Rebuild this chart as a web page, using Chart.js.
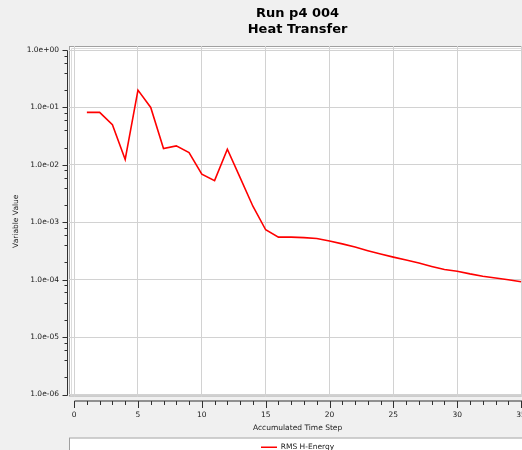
<!DOCTYPE html>
<html>
<head>
<meta charset="utf-8">
<script src="https://cdn.jsdelivr.net/npm/chart.js@4"></script>
<style>
  html, body { margin: 0; padding: 0; background: #f0f0f0; overflow: hidden; }
  #wrap { width: 522px; height: 450px; overflow: hidden; position: relative; }
  #c { position: absolute; left: 0; top: 0; }
</style>
</head>
<body>
<div id="wrap"><canvas id="c" width="540" height="461"></canvas></div>
<script>
// ---- data ----
const titleLines = ['Run p4 004', 'Heat Transfer'];
const seriesName = 'RMS H-Energy';
const steps = [1,2,3,4,5,6,7,8,9,10,11,12,13,14,15,16,17,18,19,20,21,22,23,24,25,26,27,28,29,30,31,32,33,34,35];
const rmsHEnergy = [0.082, 0.082, 0.050, 0.0124, 0.20, 0.10, 0.0192, 0.0214, 0.0164, 0.0069,
                    0.0053, 0.0187, 0.0060, 0.0019, 0.00074, 0.00055, 0.00055, 0.00054, 0.00052, 0.00047,
                    0.00042, 0.00037, 0.00032, 0.00028, 0.000247, 0.00022, 0.000195, 0.00017, 0.00015, 0.00014,
                    0.000126, 0.000115, 0.000107, 0.0001, 0.000092];
const yMajorTicks = [1, 1e-1, 1e-2, 1e-3, 1e-4, 1e-5, 1e-6];
const yTickLabels = ['1.0e+00', '1.0e-01', '1.0e-02', '1.0e-03', '1.0e-04', '1.0e-05', '1.0e-06'];
const xMajorTicks = [0, 5, 10, 15, 20, 25, 30, 35];
const xTickLabels = ['0', '5', '10', '15', '20', '25', '30', '35'];
const xAxisTitle = 'Accumulated Time Step';
const yAxisTitle = 'Variable Value';

// ---- derived tick sets ----
const yMinorTicks = [];
yMajorTicks.slice(1).forEach(d => [2, 4, 6, 8].forEach(m => yMinorTicks.push(d * m)));
const xMinorTicks = [];
for (let i = 0; i < xMajorTicks.length - 1; i++) {
  for (let k = 1; k < 5; k++) xMinorTicks.push(xMajorTicks[i] + k);
}
function isMajorY(v) { return yMajorTicks.some(m => Math.abs(Math.log10(v) - Math.log10(m)) < 1e-6); }
function isMajorX(v) { return xMajorTicks.includes(v); }

const FONT = "'DejaVu Sans', sans-serif";
const TEXT = '#1a1a1a';

const framePlugin = {
  id: 'frame',
  beforeDraw(chart) {
    const ctx = chart.ctx, a = chart.chartArea;
    ctx.save();
    ctx.fillStyle = '#f0f0f0';
    ctx.fillRect(0, 0, chart.width, chart.height);
    // plot area
    ctx.fillStyle = '#ffffff';
    ctx.fillRect(a.left, a.top, a.right - a.left, a.bottom - a.top);
    ctx.strokeStyle = '#a0a0a0';
    ctx.lineWidth = 1;
    ctx.strokeRect(a.left + 0.5, a.top + 0.5, a.right - a.left - 1, a.bottom - a.top - 1);
    ctx.strokeStyle = '#dcdcdc';
    ctx.beginPath();
    ctx.moveTo(a.left + 2.5, a.bottom - 1);
    ctx.lineTo(a.left + 2.5, a.top + 2.5);
    ctx.lineTo(a.right, a.top + 2.5);
    ctx.stroke();
    // legend box
    const lg = chart.legend;
    if (lg) {
      ctx.fillStyle = '#ffffff';
      ctx.fillRect(lg.left, lg.top, lg.right - lg.left, 60);
      ctx.strokeStyle = '#a0a0a0';
      ctx.strokeRect(lg.left + 0.5, lg.top + 0.5, lg.right - lg.left, 60);
    }
    ctx.restore();
  },
  afterDraw(chart) {
    const ctx = chart.ctx, a = chart.chartArea;
    const xs = chart.scales.x, ys = chart.scales.y;
    ctx.save();
    ctx.strokeStyle = '#303030';
    ctx.lineWidth = 1;
    // y axis
    const yAx = a.left - 1.5;
    const yTop = ys.getPixelForValue(yMajorTicks[0]);
    const yBot = ys.getPixelForValue(yMajorTicks[yMajorTicks.length - 1]);
    ctx.beginPath();
    ctx.moveTo(yAx, Math.round(yTop) + 0.5);
    ctx.lineTo(yAx, Math.round(yBot) + 0.5);
    yMajorTicks.forEach(v => {
      const p = Math.round(ys.getPixelForValue(v)) + 0.5;
      ctx.moveTo(yAx, p); ctx.lineTo(yAx - 5, p);
    });
    yMinorTicks.forEach(v => {
      const p = Math.round(ys.getPixelForValue(v)) + 0.5;
      ctx.moveTo(yAx, p); ctx.lineTo(yAx - 3, p);
    });
    ctx.stroke();
    // x axis
    const xAy = a.bottom + 4.5;
    const xL = xs.getPixelForValue(xMajorTicks[0]);
    ctx.beginPath();
    ctx.moveTo(Math.round(xL) + 0.5, xAy);
    ctx.lineTo(chart.width, xAy);
    xMajorTicks.forEach(v => {
      const p = Math.round(xs.getPixelForValue(v)) + 0.5;
      ctx.moveTo(p, xAy); ctx.lineTo(p, xAy + 7);
    });
    xMinorTicks.forEach(v => {
      const p = Math.round(xs.getPixelForValue(v)) + 0.5;
      ctx.moveTo(p, xAy); ctx.lineTo(p, xAy + 4);
    });
    ctx.stroke();
    ctx.restore();
  }
};

new Chart(document.getElementById('c'), {
  type: 'line',
  data: {
    datasets: [{
      label: seriesName,
      data: steps.map((s, i) => ({ x: s, y: rmsHEnergy[i] })),
      borderColor: '#ff0000',
      backgroundColor: '#ff0000',
      borderWidth: 1.6,
      pointRadius: 0,
      tension: 0,
      fill: false
    }]
  },
  options: {
    responsive: false,
    animation: false,
    devicePixelRatio: 1,
    layout: { padding: { left: 0, right: 9, top: 0, bottom: 0 } },
    plugins: {
      title: {
        display: true,
        text: titleLines,
        fullSize: false,
        color: '#000000',
        font: { family: FONT, size: 13, weight: 'bold', lineHeight: '16px' },
        padding: { top: 6, bottom: 8 }
      },
      legend: {
        display: true,
        position: 'bottom',
        fullSize: false,
        labels: {
          usePointStyle: true,
          pointStyle: 'line',
          pointStyleWidth: 16,
          color: TEXT,
          padding: 6,
          font: { family: FONT, size: 7.5 }
        }
      },
      tooltip: { enabled: false }
    },
    scales: {
      x: {
        type: 'linear',
        min: -0.4,
        max: 35.4,
        afterBuildTicks(scale) {
          scale.ticks = xMajorTicks.concat(xMinorTicks).sort((p, q) => p - q).map(v => ({ value: v }));
        },
        afterFit(scale) { scale.height = 41; },
        border: { display: false },
        grid: {
          drawTicks: false,
          color: ctx => (ctx.tick && isMajorX(ctx.tick.value)) ? '#d2d2d2' : 'rgba(0,0,0,0)',
          lineWidth: 1
        },
        ticks: {
          autoSkip: false,
          maxRotation: 0,
          padding: 14,
          color: TEXT,
          font: { family: FONT, size: 7.5 },
          callback: (v) => { const i = xMajorTicks.indexOf(v); return i >= 0 ? xTickLabels[i] : ''; }
        },
        title: {
          display: true,
          text: xAxisTitle,
          color: TEXT,
          font: { family: FONT, size: 7.5 },
          padding: { top: 0, bottom: 5 }
        }
      },
      y: {
        type: 'logarithmic',
        min: 9.23e-7,
        max: 1.174,
        afterBuildTicks(scale) {
          scale.ticks = yMajorTicks.concat(yMinorTicks).sort((p, q) => q - p).map(v => ({ value: v }));
        },
        afterFit(scale) { scale.width = 69; },
        border: { display: false },
        grid: {
          drawTicks: false,
          color: ctx => (ctx.tick && isMajorY(ctx.tick.value)) ? '#d2d2d2' : 'rgba(0,0,0,0)',
          lineWidth: 1
        },
        ticks: {
          autoSkip: false,
          padding: 10,
          color: TEXT,
          font: { family: FONT, size: 7.5 },
          callback: (v) => {
            const i = yMajorTicks.findIndex(m => Math.abs(Math.log10(m) - Math.log10(v)) < 1e-6);
            return i >= 0 ? yTickLabels[i] : '';
          }
        },
        title: {
          display: true,
          text: yAxisTitle,
          color: TEXT,
          font: { family: FONT, size: 7.5 },
          padding: { top: 12, bottom: 0 }
        }
      }
    }
  },
  plugins: [framePlugin]
});
</script>
</body>
</html>
